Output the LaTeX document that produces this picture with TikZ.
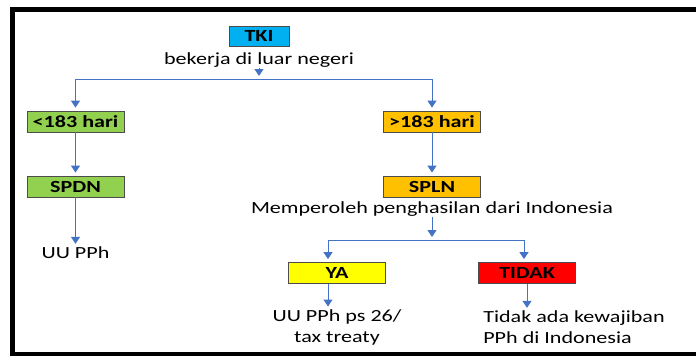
\documentclass[tikz,border=0pt]{standalone}
\usepackage{fontspec}
\setmainfont{Carlito}[FakeStretch=1.3]
\usetikzlibrary{arrows.meta,positioning}
\definecolor{tkibiru}{HTML}{00B0F0}
\definecolor{hijau}{HTML}{92D050}
\definecolor{oranye}{HTML}{FFC000}
\definecolor{kuning}{HTML}{FFFF00}
\definecolor{merah}{HTML}{FF0000}
\definecolor{biru}{HTML}{4472C4}

\begin{document}
\begin{tikzpicture}[x=1pt, y=-1pt, node distance=65pt, font=\fontsize{17}{21}\selectfont,
  kotak/.style = {draw=black!70, line width=0.8pt, minimum width=97pt, minimum height=21pt, inner sep=0pt, font=\fontsize{17}{21}\selectfont\bfseries},
  teks/.style = {inner sep=0pt, align=center},
  panah/.style = {draw=biru, line width=1pt, -{Triangle[width=9pt,length=7pt]}, shorten >=3pt},
  garis/.style = {draw=biru, line width=1pt}]
\useasboundingbox (0,0) rectangle (696,356);
\draw[line width=5pt] (700,9.5) -- (12,9.5) -- (12,354) -- (700,354);

\node[kotak, fill=tkibiru, minimum width=60pt, minimum height=20pt] (tki) at (259,36) {TKI};
\node[teks] (kerja) [below of=tki, node distance=24pt] {bekerja di luar negeri};
\coordinate (j1) at (258,79);
\node[kotak, fill=hijau] (lt) at (75.5,121.5) {<183 hari};
\node[kotak, fill=oranye] (gt) at (432,121.5) {>183 hari};
\node[kotak, fill=hijau] (spdn) [below of=lt] {SPDN};
\node[kotak, fill=oranye] (spln) [below of=gt] {SPLN};
\node[teks] (uupph) [below of=spdn, node distance=66.5pt] {UU PPh};
\node[teks] (peroleh) [below of=spln, node distance=22.5pt] {Memperoleh penghasilan dari Indonesia};
\coordinate (j2) at (434,240);
\node[kotak, fill=kuning] (ya) at (337,273) {YA};
\node[kotak, fill=merah] (tidak) at (527,273) {TIDAK};
\node[teks] (teksya) at (337,327.5) {UU PPh ps 26/\\tax treaty};
\node[teks, align=left] (tekstidak) at (574,327.5) {Tidak ada kewajiban\\PPh di Indonesia};
\coordinate (kiri) at ([xshift=-9pt]ya.north |- j2);
\coordinate (kanan) at ([xshift=-3pt]tidak.north |- j2);

\draw[panah] (kerja.south) -- (kerja.south |- j1);
\draw[garis] (lt |- j1) -- (gt |- j1);
\draw[panah] (lt |- j1) -- (lt);
\draw[panah] (gt |- j1) -- (gt);
\draw[panah] (lt) -- (spdn);
\draw[panah] (spdn) -- (uupph);
\draw[panah] (gt) -- (spln);
\draw[panah] (peroleh.south) -- (peroleh.south |- j2);
\draw[garis] (kiri) -- (kanan);
\draw[panah] (kiri) -- (kiri |- ya.north);
\draw[panah] (kanan) -- (kanan |- tidak.north);
\draw[panah] (kiri |- ya.south) -- (kiri |- teksya.north);
\draw[panah] (tidak) -- (tidak |- tekstidak.north);
\end{tikzpicture}
\end{document}
